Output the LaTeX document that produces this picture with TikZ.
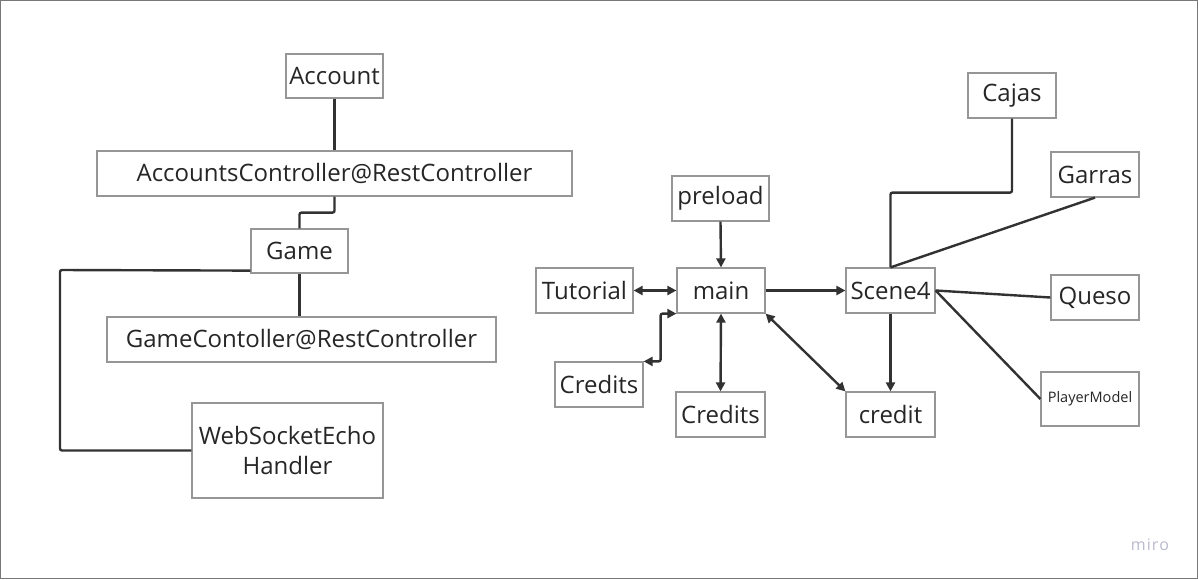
\documentclass[tikz,border=0pt]{standalone}
\usepackage{fontspec}
\setmainfont{Open Sans}
\usepackage{tikz}
\usetikzlibrary{arrows.meta}

\definecolor{boxgray}{RGB}{150,150,150}
\definecolor{linkgray}{RGB}{50,50,50}
\definecolor{framegray}{RGB}{120,120,120}
\definecolor{mirogray}{RGB}{185,185,205}

\tikzset{
	block/.style={draw=boxgray, line width=1.2pt, fill=white, inner sep=0pt,
		align=center, text=black!85, font=\fontsize{24}{30}\selectfont},
	link/.style={draw=linkgray, line width=2.4pt, rounded corners=2pt},
	onetip/.style={link, -{Triangle[length=9pt,width=9pt]}},
	twotip/.style={link, {Triangle[length=9pt,width=9pt]}-{Triangle[length=9pt,width=9pt]}},
}

\begin{document}
\begin{tikzpicture}[x=1pt, y=1pt]
	\useasboundingbox (0,0) rectangle (1198,-579);
	\draw[framegray, line width=1pt] (0.5,-0.5) rectangle (1197.5,-578.5);

	% server side
	\node[block, minimum width=97, minimum height=44] (account) at (334.5,-76) {Account};
	\node[block, minimum width=475, minimum height=45] (acctrl) at (334.5,-173.5) {AccountsController@RestController};
	\node[block, minimum width=97, minimum height=44] (game) at (299.5,-251) {Game};
	\node[block, minimum width=389, minimum height=45] (gamectrl) at (301.5,-339.5) {GameContoller@RestController};
	\node[block, minimum width=191, minimum height=95] (echo) at (287.5,-450.5) {WebSocketEcho\\Handler};
	\coordinate (echobend) at (60,-270);

	\draw[link] (account.south) -- (acctrl.north);
	\draw[link] (acctrl.south) -- ++(0,-16) -| (game.north);
	\draw[link] (game.south) -- (game.south |- gamectrl.north);
	\draw[link] ([yshift=3pt]game.south west) -- (echobend) |- (echo.west);

	% scenes
	\node[block, minimum width=97, minimum height=45] (preload) at (720.5,-198.5) {preload};
	\node[block, minimum width=97, minimum height=45] (tutorial) at (584.5,-290.5) {Tutorial};
	\node[block, minimum width=88, minimum height=45] (main) at (721,-290.5) {main};
	\node[block, minimum width=89, minimum height=45] (scene) at (890.5,-290.5) {Scene4};
	\node[block, minimum width=88, minimum height=45] (creditsa) at (599,-384.5) {Credits};
	\node[block, minimum width=89, minimum height=45] (creditsb) at (720.5,-414.5) {Credits};
	\node[block, minimum width=89, minimum height=45] (credit) at (890.5,-414.5) {credit};

	\draw[onetip] (preload.south) -- (main.north);
	\draw[twotip] (tutorial.east) -- (main.west);
	\draw[onetip] (main.east) -- (scene.west);
	\draw[twotip] (creditsa.north east) -- ++(17,0) |- (main.south west);
	\draw[twotip] (main.south) -- (creditsb.north);
	\draw[twotip] (main.south east) -- (credit.north west);
	\draw[onetip] (scene.south) -- (credit.north);

	% scene objects
	\node[block, minimum width=88, minimum height=45] (cajas) at (1012,-95.5) {Cajas};
	\node[block, minimum width=88, minimum height=45] (garras) at (1095,-174.5) {Garras};
	\node[block, minimum width=88, minimum height=45] (queso) at (1095,-297.5) {Queso};
	\node[block, minimum width=98, minimum height=54, font=\fontsize{14.5}{17}\selectfont] (player) at (1090,-399) {PlayerModel};

	\draw[link] (cajas.south) -- ++(0,-74) -| (scene.north);
	\draw[link] (garras.south) -- (scene.north);
	\draw[link] (scene.east) -- (queso.west);
	\draw[link] (scene.east) -- (player.west);

	\node[text=mirogray, font=\fontsize{16}{18}\selectfont] (miro) at (1150,-545) {m\kern1pt i\kern1pt r\kern1pt o};
\end{tikzpicture}
\end{document}
